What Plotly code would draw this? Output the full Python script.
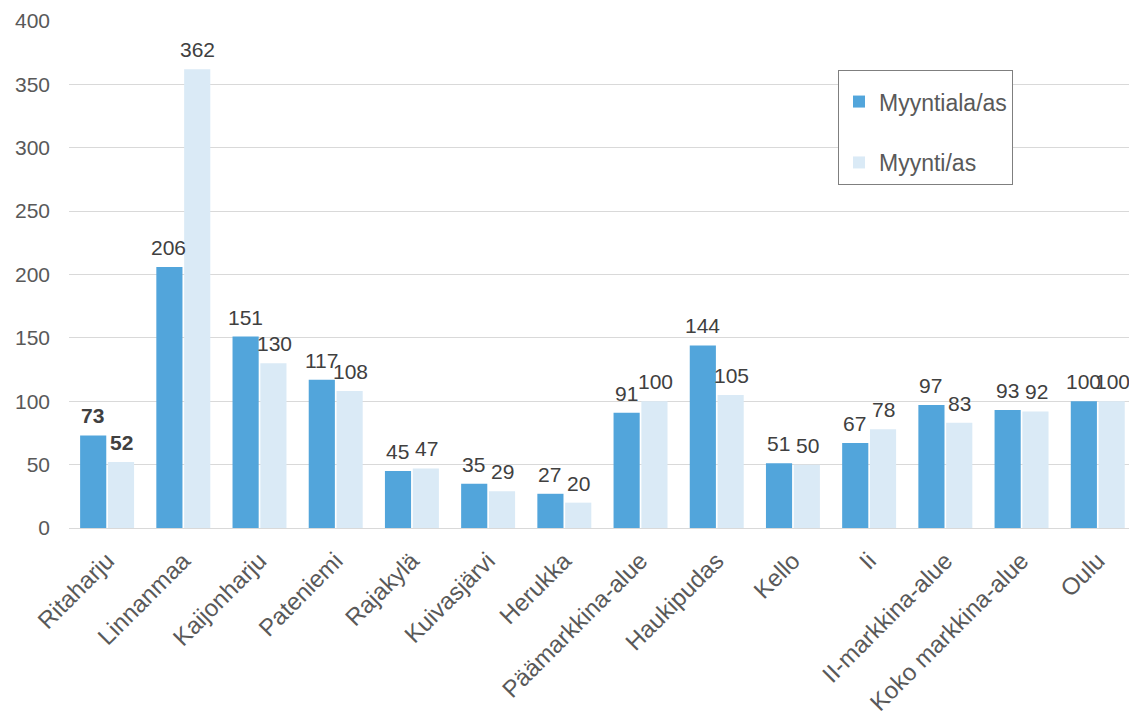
import plotly.graph_objects as go

categories = ["Ritaharju", "Linnanmaa", "Kaijonharju", "Pateniemi", "Rajakylä",
              "Kuivasjärvi", "Herukka", "Päämarkkina-alue", "Haukipudas", "Kello",
              "Ii", "II-markkina-alue", "Koko markkina-alue", "Oulu"]
myyntiala_as = [73, 206, 151, 117, 45, 35, 27, 91, 144, 51, 67, 97, 93, 100]
myynti_as = [52, 362, 130, 108, 47, 29, 20, 100, 105, 50, 78, 83, 92, 100]
y_ticks = [0, 50, 100, 150, 200, 250, 300, 350, 400]

FONT = "Liberation Sans, Arial, sans-serif"
TXT = "#595959"
LBL = "#404040"
BLUE = "#52A5DB"
LIGHT = "#DAEAF6"

fig = go.Figure()
fig.add_trace(go.Bar(name="Myyntiala/as", x=categories, y=myyntiala_as,
                     marker=dict(color=BLUE, line=dict(width=0)),
                     legendgroup="a"))
fig.add_trace(go.Bar(name="Myynti/as", x=categories, y=myynti_as,
                     marker=dict(color=LIGHT, line=dict(width=0)),
                     legendgroup="b"))

# value labels above each bar; the first group is emphasised in bold
for series, shift in ((myyntiala_as, -14.5), (myynti_as, 14.5)):
    for i, (cat, val) in enumerate(zip(categories, series)):
        text = f"<b>{val}</b>" if i == 0 else str(val)
        fig.add_annotation(x=cat, y=val, text=text, showarrow=False,
                           xref="x", yref="y", xanchor="center", yanchor="bottom",
                           xshift=shift, yshift=6,
                           font=dict(family=FONT, size=21, color=LBL))

fig.update_layout(
    width=1129, height=717,
    margin=dict(l=69, r=0, t=21, b=189),
    paper_bgcolor="white", plot_bgcolor="white",
    barmode="group", bargap=0.27, bargroupgap=0.06,
    font=dict(family=FONT, size=21, color=TXT),
    legend=dict(x=(838 - 69) / 1060, y=(528 - 70) / 507, xanchor="left", yanchor="top",
                bordercolor="#7F7F7F", borderwidth=1, bgcolor="white",
                font=dict(family=FONT, size=23, color=TXT),
                title=dict(text=" ", font=dict(size=7)),
                tracegroupgap=28, itemclick=False),
    showlegend=True,
)
fig.update_xaxes(range=[-0.5, 13.41], tickangle=-45, showgrid=False, showline=False,
                 ticks="", ticklabelstandoff=13,
                 tickfont=dict(family=FONT, size=24, color=TXT))
fig.update_yaxes(range=[0, 400], tickvals=y_ticks, showgrid=True, gridcolor="#D9D9D9",
                 gridwidth=1, zeroline=True, zerolinecolor="#D9D9D9", zerolinewidth=1,
                 showline=False, ticks="", ticklabelstandoff=18,
                 tickfont=dict(family=FONT, size=21, color=TXT))

fig.write_html("out.html")
